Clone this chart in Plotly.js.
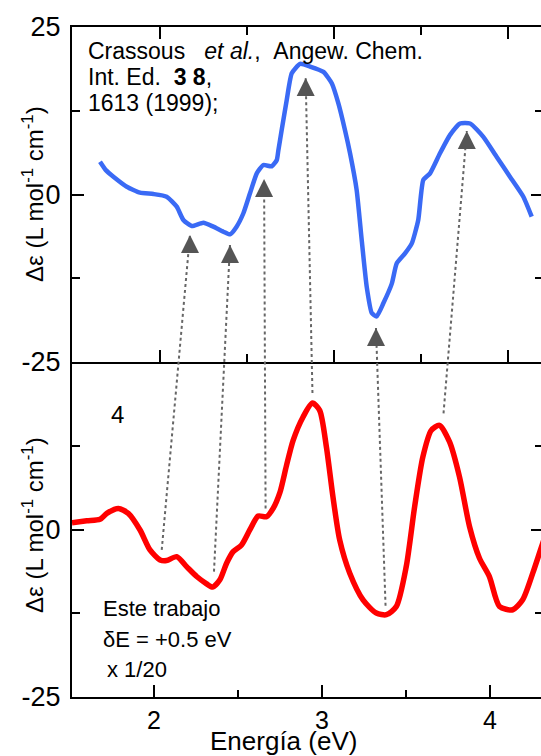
<!DOCTYPE html>
<html><head><meta charset="utf-8">
<script src="https://cdn.plot.ly/plotly-3.0.1.min.js"></script>
<style>html,body{margin:0;padding:0;overflow:hidden;background:#fff}#chart{width:546px;height:756px}</style>
</head><body><div id="chart"></div>
<script>
// Top panel (Crassous et al.) : energy (eV) and Δε
const topEnergy = [1.655,1.690,1.732,1.809,1.885,1.962,2.038,2.096,2.134,2.182,2.249,2.306,2.364,2.402,2.440,2.479,2.517,2.556,2.594,2.642,2.671,2.680,2.699,2.728,2.757,2.805,2.862,2.939,2.987,3.025,3.063,3.092,3.130,3.159,3.188,3.217,3.245,3.284,3.332,3.360,3.408,3.447,3.484,3.513,3.552,3.609,3.667,3.724,3.782,3.858,3.935,4.011,4.088,4.136];
const topDeltaEps = [4.9,3.6,2.66,1.16,0.27,0.07,-0.33,-1.82,-3.8,-4.7,-4.2,-4.8,-5.55,-5.95,-4.8,-2.8,0.18,3.16,4.4,4.2,5.15,6.6,9.6,14.1,18.1,19.5,19.1,18.3,16.6,13.6,9.6,6.15,0.67,-6.8,-13.8,-17.7,-18.2,-16.2,-13.3,-10.3,-8.8,-7.3,-3.8,2.16,3.16,6.15,8.9,10.6,10.6,8.6,5.6,2.66,-0.33,-3.3];

// Bottom panel (Este trabajo, x 1/20, shifted +0.5 eV)
const bottomEnergy = [1.512,1.600,1.679,1.719,1.788,1.847,1.917,1.976,2.036,2.075,2.135,2.194,2.254,2.313,2.349,2.392,2.432,2.471,2.521,2.570,2.620,2.669,2.709,2.749,2.788,2.828,2.887,2.943,2.986,3.026,3.065,3.105,3.165,3.244,3.323,3.383,3.442,3.501,3.551,3.600,3.650,3.699,3.759,3.818,3.878,3.937,3.996,4.056,4.135,4.194,4.254,4.300,4.330];
const bottomDeltaEps = [1.01,1.3,1.52,2.41,3.15,2.41,-0.07,-3.05,-4.54,-4.64,-4.05,-5.54,-7.02,-8.11,-8.6,-7.51,-5.03,-3.3,-2.31,-0.07,2.01,1.9,3.15,5.5,9.5,13.3,16.8,18.87,17.78,12.32,4.88,-1.56,-6.52,-10.5,-12.47,-12.72,-11.49,-5.54,3.39,10.83,14.8,15.55,13.07,7.86,0.42,-4.29,-7.02,-11.49,-11.98,-10.49,-6.52,-3.05,-0.8];

// Arrow heads (top panel coordinates) and the bottom-panel features they link to
const arrowEnergyTop = [2.172,2.402,2.598,2.837,3.241,3.763];
const arrowDeltaEpsTop = [-6.04,-7.54,2.31,17.39,-19.93,9.48];
const featureEnergyBottom = [2.046,2.357,2.664,2.943,3.378,3.723];
const featureDeltaEpsBottom = [-3.05,-6.28,3.15,20.36,-11.38,17.34];

// Ticks
const xTickVals = [2,3,4];
const xTickText = ['2','3','4'];
const xMinorVals = [2.5,3.5];
const yTopTickVals = [-25,0,25];
const yTopTickText = ['-25','0','25'];
const yBottomTickVals = [-25,0];
const yBottomTickText = ['-25','0'];
const yMinorVals = [-12.5,12.5];

const bottomXRange = [1.512, 4.315];
const topXRange = [1.494, 4.201];
const yRange = [-25, 25];
const overlayYRange = [-25, 75];

function topToOverlayX(x){ return bottomXRange[0] + (x-topXRange[0])/(topXRange[1]-topXRange[0])*(bottomXRange[1]-bottomXRange[0]); }
function topToOverlayY(y){ return y + (yRange[1]-yRange[0]); }

const connX = [], connY = [];
for (let i=0;i<arrowEnergyTop.length;i++){
  connX.push(featureEnergyBottom[i], topToOverlayX(arrowEnergyTop[i]), null);
  connY.push(featureDeltaEpsBottom[i], topToOverlayY(arrowDeltaEpsTop[i]), null);
}

const FONT = 'Liberation Sans, Arial, Helvetica, sans-serif';
const NB = '\u00a0';

const traces = [
  {x: bottomEnergy, y: bottomDeltaEps, xaxis:'x', yaxis:'y', mode:'lines',
   line:{color:'#ff0000', width:5.5, shape:'spline', smoothing:0.7}, hoverinfo:'skip'},
  {x: topEnergy, y: topDeltaEps, xaxis:'x2', yaxis:'y2', mode:'lines',
   line:{color:'#3a6af5', width:4.5, shape:'spline', smoothing:0.5}, hoverinfo:'skip'},
  {x: connX, y: connY, xaxis:'x3', yaxis:'y3', mode:'lines',
   line:{color:'#666666', width:2, dash:'dot'}, hoverinfo:'skip'},
  {x: arrowEnergyTop.map(topToOverlayX), y: arrowDeltaEpsTop.map(topToOverlayY), xaxis:'x3', yaxis:'y3',
   mode:'markers', marker:{symbol:'arrow-up', size:18, color:'#555555', line:{width:0}}, hoverinfo:'skip'}
];

const common = {showline:true, linecolor:'#000', linewidth:2, ticks:'inside', tickcolor:'#000', tickwidth:2, ticklen:12,
  showgrid:false, zeroline:false, tickfont:{family:FONT, size:27, color:'#000'}, fixedrange:true};

const layout = {
  width:546, height:756,
  margin:{l:72, r:3, t:27, b:59},
  paper_bgcolor:'#fff', plot_bgcolor:'rgba(0,0,0,0)',
  showlegend:false,
  font:{family:FONT, color:'#000'},
  xaxis: Object.assign({}, common, {domain:[0,1], anchor:'y', range:bottomXRange, tickmode:'array', tickvals:xTickVals, ticktext:xTickText,
     tickfont:{family:FONT, size:25, color:'#000'},
     minor:{tickmode:'array', tickvals:xMinorVals, ticks:'inside', ticklen:7, tickwidth:2, tickcolor:'#000'}, ticklabelstandoff:0}),
  yaxis: Object.assign({}, common, {domain:[0,0.5], anchor:'x', range:yRange, tickmode:'array', tickvals:yBottomTickVals, ticktext:yBottomTickText,
     minor:{tickmode:'array', tickvals:yMinorVals, ticks:'inside', ticklen:8, tickwidth:2, tickcolor:'#000'}, mirror:'ticks', ticklabelstandoff:4}),
  xaxis2: Object.assign({}, common, {domain:[0,1], anchor:'y2', range:topXRange, tickmode:'array', tickvals:xTickVals, showticklabels:false, mirror:'ticks',
     minor:{tickmode:'array', tickvals:xMinorVals, ticks:'inside', ticklen:8, tickwidth:2, tickcolor:'#000'}}),
  yaxis2: Object.assign({}, common, {domain:[0.5,1], anchor:'x2', range:yRange, tickmode:'array', tickvals:yTopTickVals, ticktext:yTopTickText,
     minor:{tickmode:'array', tickvals:yMinorVals, ticks:'inside', ticklen:8, tickwidth:2, tickcolor:'#000'}, mirror:'ticks', ticklabelstandoff:4}),
  xaxis4: {overlaying:'x2', anchor:'y2', side:'bottom', range:topXRange, showline:false, showgrid:false, zeroline:false,
     tickmode:'array', tickvals:xTickVals, ticks:'outside', ticklen:9, tickwidth:2, tickcolor:'#000', showticklabels:false,
     minor:{tickmode:'array', tickvals:xMinorVals, ticks:'outside', ticklen:8, tickwidth:2, tickcolor:'#000'}, fixedrange:true},
  xaxis3: {domain:[0,1], anchor:'y3', range:bottomXRange, visible:false, fixedrange:true},
  yaxis3: {domain:[0,1], anchor:'x3', range:overlayYRange, visible:false, fixedrange:true},
  annotations: [
    {xref:'paper', yref:'paper', x:(33-72)/471, y:(697-194)/670, text:'Δε (L mol<sup>-1</sup> cm<sup>-1</sup>)', textangle:-90,
     showarrow:false, xanchor:'center', yanchor:'middle', font:{family:FONT, size:24, color:'#000'}},
    {xref:'paper', yref:'paper', x:(33-72)/471, y:(697-525)/670, text:'Δε (L mol<sup>-1</sup> cm<sup>-1</sup>)', textangle:-90,
     showarrow:false, xanchor:'center', yanchor:'middle', font:{family:FONT, size:24, color:'#000'}},
    {xref:'paper', yref:'paper', x:(283-72)/471, y:(697-741)/670, text:'Energía (eV)',
     showarrow:false, xanchor:'center', yanchor:'middle', font:{family:FONT, size:26, color:'#000'}},
    {xref:'paper', yref:'paper', x:(86-72)/471, y:(697-51)/670, text:'Crassous'+NB+NB+NB+'<i>et al.</i>,'+NB+NB+'Angew. Chem.',
     showarrow:false, xanchor:'left', yanchor:'middle', font:{family:FONT, size:23, color:'#000'}},
    {xref:'paper', yref:'paper', x:(86-72)/471, y:(697-77)/670, text:'Int. Ed.'+NB+NB+'<b>3'+NB+'8</b>,',
     showarrow:false, xanchor:'left', yanchor:'middle', font:{family:FONT, size:23, color:'#000'}},
    {xref:'paper', yref:'paper', x:(86-72)/471, y:(697-103)/670, text:'1613 (1999);',
     showarrow:false, xanchor:'left', yanchor:'middle', font:{family:FONT, size:23, color:'#000'}},
    {xref:'paper', yref:'paper', x:(117-72)/471, y:(697-414)/670, text:'4',
     showarrow:false, xanchor:'center', yanchor:'middle', font:{family:FONT, size:24, color:'#000'}},
    {xref:'paper', yref:'paper', x:(101-72)/471, y:(697-608)/670, text:'Este trabajo',
     showarrow:false, xanchor:'left', yanchor:'middle', font:{family:FONT, size:22, color:'#000'}},
    {xref:'paper', yref:'paper', x:(101-72)/471, y:(697-639)/670, text:'δE = +0.5 eV',
     showarrow:false, xanchor:'left', yanchor:'middle', font:{family:FONT, size:22, color:'#000'}},
    {xref:'paper', yref:'paper', x:(105-72)/471, y:(697-669)/670, text:'x 1/20',
     showarrow:false, xanchor:'left', yanchor:'middle', font:{family:FONT, size:22, color:'#000'}}
  ]
};

Plotly.newPlot('chart', traces, layout, {staticPlot:true, displayModeBar:false});
</script>
</body></html>
